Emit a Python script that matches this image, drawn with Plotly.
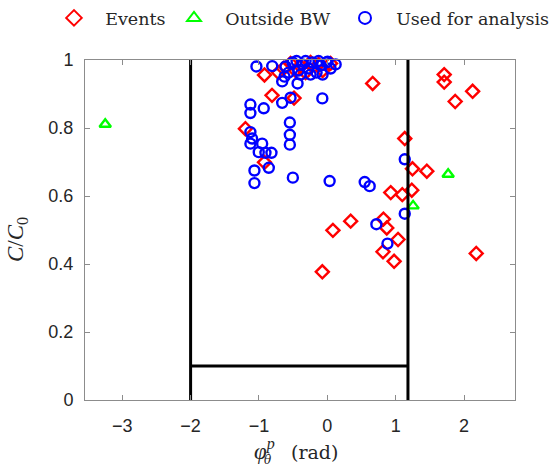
import plotly.graph_objects as go

# Events (red diamonds)
events_x = [-0.919, -0.809, -0.487, -1.198, -0.919, 0.664, 1.710, 1.710, 2.126, 1.871,
            1.133, 1.246, 1.456, 1.236, 1.097, 0.928, 0.342, 0.082, 0.821, 0.870,
            1.035, 0.815, 0.977, -0.073, 2.179,
            -0.641, -0.538, -0.391, -0.245, -0.128, -0.069, 0.048, -0.318, -0.465, -0.714]
events_y = [0.956, 0.896, 0.888, 0.798, 0.699, 0.931, 0.957, 0.935, 0.908, 0.878,
            0.769, 0.680, 0.673, 0.617, 0.604, 0.610, 0.526, 0.499, 0.532, 0.506,
            0.472, 0.436, 0.408, 0.377, 0.431,
            0.975, 0.990, 0.981, 0.993, 0.987, 0.969, 0.990, 0.963, 0.969, 0.963]

# Outside BW (green triangles)
outside_x = [-3.249, 1.768, 1.255]
outside_y = [0.811, 0.664, 0.571]

# Used for analysis (blue circles)
used_x = [-1.037, -0.806, -0.660, -0.435, -0.660, -0.538, -0.073, -1.125, -1.125, -0.930,
          -0.548, -0.548, -0.548, -1.125, -1.100, -1.125, -0.953, -1.003, -0.905, -0.817,
          -0.856, -1.066, -1.066, -0.504, 0.034, 0.547, 0.620, 1.133, 1.133, 0.718, 0.880,
          -0.611, -0.509, -0.421, -0.362, -0.274, -0.216, -0.157, -0.098, -0.010, 0.048,
          0.122, -0.567, -0.450, -0.318, -0.128, 0.004, -0.391, -0.245, -0.069, -0.626]
used_y = [0.981, 0.982, 0.937, 0.931, 0.874, 0.889, 0.887, 0.869, 0.844, 0.858,
          0.816, 0.780, 0.751, 0.788, 0.769, 0.754, 0.754, 0.729, 0.727, 0.727,
          0.683, 0.675, 0.638, 0.654, 0.644, 0.641, 0.629, 0.708, 0.548, 0.517, 0.460,
          0.981, 0.993, 0.969, 0.987, 0.975, 0.993, 0.963, 0.984, 0.993, 0.975,
          0.987, 0.963, 0.997, 0.997, 0.997, 0.995, 0.957, 0.957, 0.957, 0.951]

# Selection window boundaries
bound_x = [-2.0, 1.18]
bound_ymin = 0.1
y_top = 1.0

x_ticks = [-3, -2, -1, 0, 1, 2]
y_ticks = [0, 0.2, 0.4, 0.6, 0.8, 1]
y_ticklabels = ["0", "0.2", "0.4", "0.6", "0.8", "1"]

W, H = 549, 469
L, R, T, B = 85, 34, 60, 69
PW, PH = W - L - R, H - T - B

def px(xp):
    return (xp - L) / PW

def py(yp):
    return (H - B - yp) / PH

SERIF = "Liberation Serif, Times New Roman, serif"
WSERIF = "DejaVu Serif, serif"
TXT = "#262626"

fig = go.Figure()
fig.add_trace(go.Scatter(x=events_x, y=events_y, mode="markers", name="  Events",
                         legend="legend",
                         marker=dict(symbol="diamond-open", size=10, color="#ff0000",
                                     line=dict(width=2.4, color="#ff0000")),
                         cliponaxis=False))
fig.add_trace(go.Scatter(x=outside_x, y=outside_y, mode="markers", name="  Outside BW",
                         legend="legend2",
                         marker=dict(symbol="triangle-up-open", size=10, color="#00ff00",
                                     line=dict(width=2.4, color="#00ff00")),
                         cliponaxis=False))
fig.add_trace(go.Scatter(x=used_x, y=used_y, mode="markers", name="  Used for analysis",
                         legend="legend3",
                         marker=dict(symbol="circle-open", size=10, color="#0000ff",
                                     line=dict(width=2.4, color="#0000ff")),
                         cliponaxis=False))
# boundary lines
for bx in bound_x:
    fig.add_trace(go.Scatter(x=[bx, bx], y=[0, y_top], mode="lines",
                             line=dict(color="black", width=3), showlegend=False,
                             hoverinfo="skip"))
fig.add_trace(go.Scatter(x=bound_x, y=[bound_ymin, bound_ymin], mode="lines",
                         line=dict(color="black", width=3), showlegend=False, hoverinfo="skip"))

axis_common = dict(showgrid=False, zeroline=False, showline=True, linecolor="#8c8c8c",
                   linewidth=1, mirror="ticks", ticks="inside", ticklen=5,
                   tickcolor="#8c8c8c",
                   tickfont=dict(family="Liberation Sans, Arial", size=18, color=TXT))

annotations = [
    dict(text="<i>φ</i><sup><i>p</i></sup>", x=px(264), y=py(449),
         font=dict(family=SERIF, size=23, color=TXT)),
    dict(text="<i>θ̇</i>", x=px(268), y=py(460), font=dict(family=WSERIF, size=12, color=TXT)),
    dict(text="(rad)", x=px(314), y=py(452), font=dict(family=WSERIF, size=19, color=TXT)),
    dict(text="<i>C</i>/<i>C</i><sub>0</sub>", x=px(17), y=py(240), textangle=-90,
         font=dict(family=SERIF, size=23, color=TXT)),
]
for a in annotations:
    a.update(xref="paper", yref="paper", showarrow=False, xanchor="center", yanchor="middle")

def leg(xpix):
    return dict(orientation="h", xref="container", yref="container",
                x=xpix / W, y=1.0, xanchor="left", yanchor="top",
                font=dict(family=WSERIF, size=17.5, color=TXT),
                bgcolor="rgba(0,0,0,0)", itemsizing="constant")

fig.update_layout(
    width=W, height=H,
    margin=dict(l=L, r=R, t=T, b=B, autoexpand=False),
    plot_bgcolor="white", paper_bgcolor="white",
    xaxis=dict(range=[-3.545, 2.746], tickvals=x_ticks, ticklabelstandoff=9, **axis_common),
    yaxis=dict(range=[0, 1], tickvals=y_ticks, ticktext=y_ticklabels, ticklabelstandoff=7,
               **axis_common),
    legend=leg(54),
    legend2=leg(174),
    legend3=leg(345),
    showlegend=True,
    annotations=annotations,
)

fig.write_html("out.html")
